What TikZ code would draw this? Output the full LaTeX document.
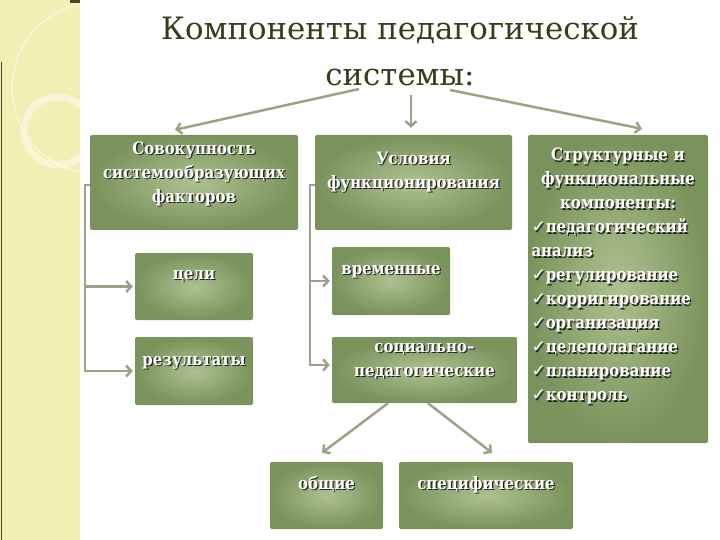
\documentclass[tikz,border=0pt]{standalone}
\usepackage{fontspec}
\usepackage{xcolor}
\setmainfont{DejaVu Serif}
\newfontfamily\symfont{DejaVu Sans}
\newfontfamily\boxfont[FakeStretch=0.88]{DejaVu Serif}
\usetikzlibrary{arrows.meta, calc}
\definecolor{cStrip}{RGB}{240,240,180}
\definecolor{cRule}{RGB}{80,72,30}
\definecolor{cTitle}{RGB}{58,58,28}
\definecolor{cBoxIn}{RGB}{174,194,145}
\definecolor{cBoxOut}{RGB}{122,146,92}
\definecolor{cShade}{RGB}{40,40,35}
\definecolor{cLine}{RGB}{155,163,135}
% white box text with a dark drop shadow
\newcommand{\sh}[1]{\makebox[0pt][l]{\kern1.3pt\raisebox{-1.3pt}{\textcolor{cShade}{#1}}}#1}
\newcommand{\chk}{{\symfont\mdseries ✓}}
\tikzset{
	gbox/.style ={rectangle, rounded corners=2pt, inner color=cBoxIn, outer color=cBoxOut, text=white, align=center, inner sep=3pt, text depth=22pt, font=\boxfont\bfseries\fontsize{17}{24}\selectfont},
	conn/.style ={line width=2.5pt, draw=cLine, -{Straight Barb[length=5pt, width=11pt]}},
}

\begin{document}
\begin{tikzpicture}[x=1pt, y=-1pt]
	\useasboundingbox (0,0) rectangle (720,540);
	% left decorative strip
	\fill[cStrip] (0,0) rectangle (80,540);
	\begin{scope}
		\clip (0,0) rectangle (80,540);
		\draw[white, opacity=0.45, line width=7pt] (58,131) circle (34);
		\draw[white, opacity=0.5, line width=1.5pt] (98,88) circle (86);
	\end{scope}
	\draw[cRule, line width=1.5pt] (1.5,62) -- (1.5,540);
	\fill[cRule] (70,0) rectangle (80,3);
	% title
	\node[anchor=south, inner sep=0pt, text depth=3pt, align=center, text=cTitle, font=\fontsize{30.8}{46}\selectfont] (title) at (400,89) {Компоненты педагогической\\системы:};
	% top row
	\node[gbox, minimum width=208pt, minimum height=95pt, text depth=21pt] (fac) at (194,182.5) {\sh{Совокупность}\\\sh{системообразующих}\\\sh{факторов}};
	\node[gbox, minimum width=197pt, minimum height=95pt, text depth=24pt] (usl) at (413.5,182.5) {\sh{Условия}\\\sh{функционирования}};
	\node[gbox, minimum width=180pt, minimum height=308pt, text width=173pt, inner xsep=3.5pt, align=left, text depth=] (str) at (618,289) {{\centering\sh{Структурные и}\\\sh{функциональные}\\\sh{компоненты:}\par}\sh{\chk педагогический}\\\sh{анализ}\\\sh{\chk регулирование}\\\sh{\chk корригирование}\\\sh{\chk организация}\\\sh{\chk целеполагание}\\\sh{\chk планирование}\\\sh{\chk контроль}\par\vspace*{24pt}};
	% second and third rows
	\node[gbox, minimum width=118pt, minimum height=67pt, text depth=23pt] (celi) at (194,286.5) {\sh{цели}};
	\node[gbox, minimum width=118pt, minimum height=68pt, text depth=20pt] (res) at (194,371) {\sh{результаты}};
	\node[gbox, minimum width=118pt, minimum height=68pt] (vrem) at (391,281) {\sh{временные}};
	\node[gbox, minimum width=185pt, minimum height=66pt, text depth=20pt] (soc) at (424.5,370) {\sh{социально–}\\\sh{педагогические}};
	\node[gbox, minimum width=113pt, minimum height=67pt, text depth=25pt] (obsh) at (326.5,495.5) {\sh{общие}};
	\node[gbox, minimum width=174pt, minimum height=67pt, text depth=25pt] (spec) at (486,495.5) {\sh{специфические}};
	% arrows from the title
	\draw[conn] ($(title.south)+(-41,0)$) -- ($(fac.north)+(-19,-5)$);
	\draw[conn] ($(title.south)+(11,6)$) -- ($(usl.north)+(-2.5,-7)$);
	\draw[conn] ($(title.south)+(50,1)$) -- ($(str.north)+(24,-6)$);
	% brackets
	\draw[conn, shorten >=2pt] ($(fac.west)+(0,2.5)$) -- ++(-5,0) |- (celi.west);
	\draw[conn, shorten >=2pt] ($(fac.west)+(0,2.5)$) -- ++(-5,0) |- (res.west);
	\draw[conn, shorten >=2pt] ($(usl.west)+(0,2.5)$) -- ++(-5,0) |- (vrem.west);
	\draw[conn, shorten >=2pt] ($(usl.west)+(0,2.5)$) -- ++(-5,0) |- ($(soc.west)+(0,-5)$);
	% lower arrows
	\draw[conn] ($(soc.south)+(-36.5,0)$) -- ($(obsh.north)+(-4.5,-9)$);
	\draw[conn] ($(soc.south)+(3.5,0)$) -- ($(spec.north)+(6,-9)$);
\end{tikzpicture}
\end{document}
